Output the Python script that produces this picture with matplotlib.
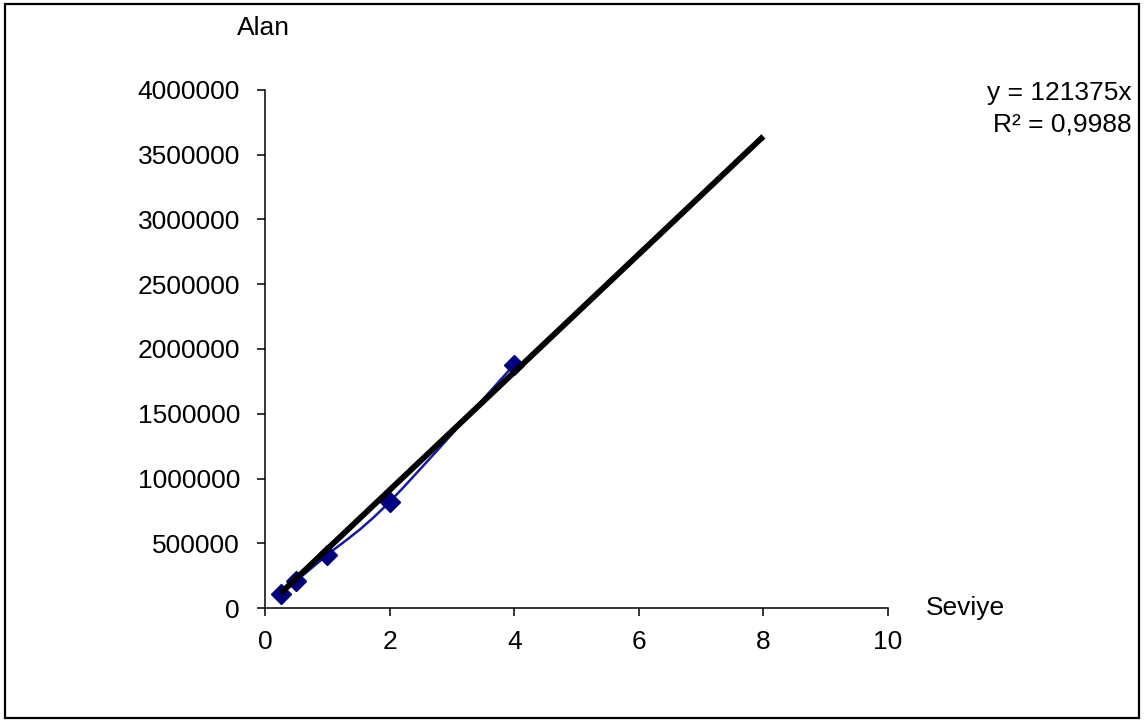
import numpy as np
import matplotlib
matplotlib.use("Agg")
import matplotlib.pyplot as plt
from matplotlib.path import Path
import matplotlib.patches as mpatches

plt.rcParams["font.family"] = ["Liberation Sans", "DejaVu Sans"]

# calibration data: level vs. peak area
seviye = [0.25, 0.5, 1, 2, 4]
alan = [110000, 210000, 410000, 820000, 1880000]
x_ticks = [0, 2, 4, 6, 8, 10]
y_ticks = [0, 500000, 1000000, 1500000, 2000000, 2500000, 3000000,
           3500000, 4000000]
trend_text = "y = 121375x\nR² = 0,9988"
trend_end = 8
FS = 19


def smooth_path(xs, ys, k=1 / 6):
    """Bezier path through the points (Catmull-Rom style control points)."""
    pts = list(zip(xs, ys))
    verts = [pts[0]]
    codes = [Path.MOVETO]
    for i in range(len(pts) - 1):
        p0 = pts[max(i - 1, 0)]
        p1 = pts[i]
        p2 = pts[i + 1]
        p3 = pts[min(i + 2, len(pts) - 1)]
        c1 = (p1[0] + (p2[0] - p0[0]) * k, p1[1] + (p2[1] - p0[1]) * k)
        c2 = (p2[0] - (p3[0] - p1[0]) * k, p2[1] - (p3[1] - p1[1]) * k)
        verts += [c1, c2, p2]
        codes += [Path.CURVE4] * 3
    return Path(verts, codes)


fig = plt.figure(figsize=(11.44, 7.22), dpi=100)
ax = fig.add_axes([265 / 1144, 1 - 608 / 722, 623 / 1144, 518 / 722])

# smoothed series line with diamond markers
ax.add_patch(mpatches.PathPatch(smooth_path(seviye, alan), fill=False,
                                edgecolor="#1a1aa0", linewidth=1.8, zorder=2))
ax.plot(seviye, alan, linestyle="none", marker="D", markersize=10.5,
        color="#000080", zorder=3)

# linear trendline through the origin, extended forward
x = np.array(seviye, dtype=float)
y = np.array(alan, dtype=float)
slope = (x * y).sum() / (x * x).sum()
ax.plot([seviye[0], trend_end], [slope * seviye[0], slope * trend_end],
        color="black", linewidth=4.2, solid_capstyle="butt", zorder=4)

ax.set_xlim(0, 10)
ax.set_ylim(0, 4000000)
ax.set_xticks(x_ticks)
ax.set_yticks(y_ticks)
ax.set_xticklabels([str(v) for v in x_ticks])
ax.set_yticklabels([str(v) for v in y_ticks])
ax.tick_params(axis="both", direction="out", length=6, width=1.1,
               labelsize=FS, colors="black")
ax.tick_params(axis="y", pad=12)
ax.tick_params(axis="x", pad=10)
for side in ("top", "right"):
    ax.spines[side].set_visible(False)
for side in ("left", "bottom"):
    ax.spines[side].set_linewidth(1.1)

fig.text(237 / 1144, 1 - 28 / 722, "Alan", fontsize=FS, va="center",
         ha="left")
fig.text(926 / 1144, 1 - 608 / 722, "Seviye", fontsize=FS, va="center",
         ha="left")
fig.text(1132 / 1144, 1 - 109 / 722, trend_text, fontsize=FS, va="center",
         ha="right", multialignment="right", linespacing=1.38)

# outer frame around the whole chart
fig.add_artist(mpatches.Rectangle((5 / 1144, 4 / 722), 1134 / 1144,
                                  714 / 722, transform=fig.transFigure,
                                  fill=False, edgecolor="black",
                                  linewidth=1.6))

fig.savefig("out.png", dpi=100)
